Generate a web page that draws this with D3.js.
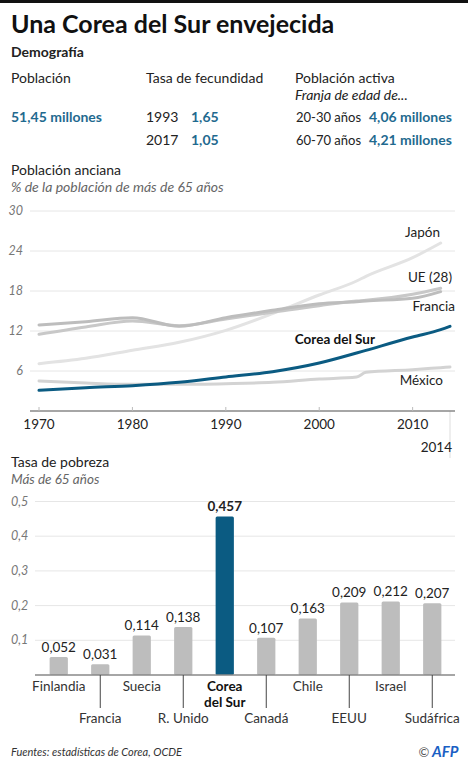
<!DOCTYPE html>
<html>
<head>
<meta charset="utf-8">
<script src="https://cdn.jsdelivr.net/npm/d3@7"></script>
<style>
  body { margin: 0; background: #fff; }
  svg { display: block; font-family: Lato, "Open Sans", sans-serif; }
  .grid line { stroke: #e6e6e6; }
  .tick-lbl { font-style: italic; fill: #777; font-size: 12.5px; }
</style>
</head>
<body>
<div id="chart"></div>
<script>
// ---- data ----
var years = [1970, 1975, 1980, 1985, 1990, 1995, 2000, 2004, 2005, 2010, 2013, 2014];
var corea   = [3.1, 3.5, 3.8, 4.3, 5.1, 5.9, 7.2, 8.7, 9.1, 11.1, 12.2, 12.7];
var japon   = [7.1, 7.9, 9.1, 10.3, 12.1, 14.6, 17.4, 19.5, 20.2, 23.0, 25.2, null];
var ue      = [11.5, 12.6, 13.5, 12.8, 13.8, 14.8, 15.8, 16.5, 16.6, 17.5, 18.4, null];
var francia = [12.9, 13.4, 14.0, 12.7, 14.0, 15.1, 16.1, 16.4, 16.5, 16.9, 17.9, null];
var mexico  = [4.5, 4.2, 4.0, 4.0, 4.1, 4.3, 4.8, 5.1, 5.8, 6.2, 6.5, 6.6];
var yTicks = [6, 12, 18, 24, 30];
var xTicks = [1970, 1980, 1990, 2000, 2010];

var paises  = ["Finlandia", "Francia", "Suecia", "R. Unido", "Corea del Sur", "Canadá", "Chile", "EEUU", "Israel", "Sudáfrica"];
var pobreza = [0.052, 0.031, 0.114, 0.138, 0.457, 0.107, 0.163, 0.209, 0.212, 0.207];
var bTicks = [0.1, 0.2, 0.3, 0.4, 0.5];

var blue = "#0b5b82", blueTxt = "#1f6a8f";
var fmt = function(v) { return String(v).replace(".", ","); };

var svg = d3.select("#chart").append("svg")
    .attr("width", 468).attr("height", 768);

// top black strip
svg.append("rect").attr("width", 468).attr("height", 3).attr("fill", "#111");

function txt(x, y, s, o) {
  o = o || {};
  return svg.append("text").attr("x", x).attr("y", y).text(s)
    .attr("font-size", o.size || 13)
    .attr("font-weight", o.bold ? "bold" : "normal")
    .attr("font-style", o.italic ? "italic" : "normal")
    .attr("fill", o.fill || "#222")
    .attr("text-anchor", o.anchor || "start");
}

// ---- header ----
txt(11, 33, "Una Corea del Sur envejecida", {size: 25, bold: true, fill: "#111"});
txt(11, 57, "Demografía", {size: 14, bold: true});
txt(11, 83, "Población", {size: 14});
txt(146, 83, "Tasa de fecundidad", {size: 14});
txt(295, 83, "Población activa", {size: 14});
txt(295, 100, "Franja de edad de...", {size: 14, italic: true});
txt(11, 122, "51,45 millones", {size: 14, bold: true, fill: blueTxt});
txt(146, 122, "1993", {size: 14});
txt(191, 122, "1,65", {size: 14, bold: true, fill: blueTxt});
txt(146, 145, "2017", {size: 14});
txt(191, 145, "1,05", {size: 14, bold: true, fill: blueTxt});
txt(296, 122, "20-30 años", {size: 13});
txt(369, 122, "4,06 millones", {size: 14, bold: true, fill: blueTxt});
txt(296, 145, "60-70 años", {size: 13});
txt(369, 145, "4,21 millones", {size: 14, bold: true, fill: blueTxt});

// ---- line chart ----
txt(11, 175, "Población anciana", {size: 14});
txt(11, 192, "% de la población de más de 65 años", {size: 14, italic: true, fill: "#666"});

var x = d3.scaleLinear().domain([1970, 2014]).range([39, 450]);
var y = d3.scaleLinear().domain([0, 30]).range([411, 211]);

var g1 = svg.append("g");
g1.append("g").attr("class", "grid")
  .selectAll("line").data(yTicks).enter().append("line")
    .attr("x1", 30).attr("x2", 455)
    .attr("y1", function(d) { return y(d); }).attr("y2", function(d) { return y(d); });
g1.selectAll(".yl").data(yTicks).enter().append("text")
    .attr("class", "tick-lbl")
    .attr("x", 23).attr("y", function(d) { return y(d) + 4; })
    .attr("text-anchor", "end")
    .text(function(d) { return d; });

// 2014 marker
g1.append("line").attr("x1", x(2014)).attr("x2", x(2014))
  .attr("y1", y(0)).attr("y2", 458).attr("stroke", "#ddd");

var line = d3.line()
    .defined(function(d) { return d[1] != null; })
    .x(function(d) { return x(d[0]); })
    .y(function(d) { return y(d[1]); })
    .curve(d3.curveMonotoneX);

var series = [
  {v: japon, c: "#e3e3e3", w: 3},
  {v: mexico, c: "#d3d3d3", w: 3},
  {v: ue, c: "#c8c8c8", w: 3},
  {v: francia, c: "#bdbdbd", w: 3},
  {v: corea, c: blue, w: 3}
];
series.forEach(function(s) {
  g1.append("path")
    .datum(years.map(function(yr, i) { return [yr, s.v[i]]; }))
    .attr("fill", "none").attr("stroke", s.c).attr("stroke-width", s.w)
    .attr("stroke-linejoin", "round").attr("stroke-linecap", "round")
    .attr("d", line);
});

var xAxis = g1.append("g").attr("transform", "translate(0," + y(0) + ")");
xAxis.append("line").attr("x1", 30).attr("x2", 455).attr("stroke", "#888").attr("stroke-width", 1.5);
xAxis.selectAll(".t").data(xTicks).enter().append("line")
  .attr("x1", function(d) { return x(d); }).attr("x2", function(d) { return x(d); })
  .attr("y1", -4).attr("y2", 0).attr("stroke", "#bbb");
xAxis.selectAll(".xl").data(xTicks).enter().append("text")
  .attr("x", function(d) { return x(d); }).attr("y", 18)
  .attr("text-anchor", "middle").attr("font-size", 13.5).attr("fill", "#222")
  .text(function(d) { return d; });
txt(452, 452, "2014", {size: 13.5, anchor: "end"});

txt(440, 237, "Japón", {size: 13.5, anchor: "end"});
txt(452, 282, "UE (28)", {size: 13.5, anchor: "end"});
txt(455, 311, "Francia", {size: 13.5, anchor: "end"});
txt(375, 344, "Corea del Sur", {size: 13.5, bold: true, anchor: "end", fill: "#111"});
txt(443, 385, "México", {size: 13.5, anchor: "end"});

// ---- bar chart ----
txt(11, 467, "Tasa de pobreza", {size: 14});
txt(11, 484, "Más de 65 años", {size: 13.5, italic: true, fill: "#666"});

var bx = d3.scaleBand().domain(paises).range([38, 453]).paddingInner(0.56).paddingOuter(0.28);
var by = d3.scaleLinear().domain([0, 0.5]).range([675, 501.5]);

var g2 = svg.append("g");
g2.append("g").attr("class", "grid")
  .selectAll("line").data(bTicks).enter().append("line")
    .attr("x1", 35).attr("x2", 455)
    .attr("y1", function(d) { return by(d); }).attr("y2", function(d) { return by(d); });
g2.selectAll(".yl").data(bTicks).enter().append("text")
    .attr("class", "tick-lbl")
    .attr("x", 11).attr("y", function(d) { return by(d) + 4; })
    .text(function(d) { return fmt(d); });

g2.selectAll("rect.bar").data(pobreza).enter().append("rect")
    .attr("class", "bar")
    .attr("x", function(d, i) { return bx(paises[i]); })
    .attr("width", bx.bandwidth())
    .attr("y", function(d) { return by(d); })
    .attr("height", function(d) { return by(0) - by(d); })
    .attr("rx", 1.5)
    .attr("fill", function(d, i) { return i === 4 ? blue : "#bdbdbd"; });

g2.selectAll(".val").data(pobreza).enter().append("text")
    .attr("x", function(d, i) { return bx(paises[i]) + bx.bandwidth() / 2; })
    .attr("y", function(d) { return by(d) - 5; })
    .attr("text-anchor", "middle").attr("font-size", 13.5)
    .attr("font-weight", function(d, i) { return i === 4 ? "bold" : "normal"; })
    .attr("fill", "#222")
    .text(function(d) { return fmt(d); });

g2.append("line").attr("x1", 35).attr("x2", 455)
  .attr("y1", by(0)).attr("y2", by(0)).attr("stroke", "#888").attr("stroke-width", 1.5);

paises.forEach(function(p, i) {
  var cx = bx(p) + bx.bandwidth() / 2;
  if (i % 2 === 1) {
    g2.append("line").attr("x1", cx).attr("x2", cx).attr("y1", by(0)).attr("y2", 708)
      .attr("stroke", "#444").attr("stroke-width", 1);
    txt(cx, 723, p, {size: 13.5, anchor: "middle", fill: "#333"});
  } else if (i === 4) {
    txt(cx, 691, "Corea", {size: 13.5, bold: true, anchor: "middle", fill: "#111"});
    txt(cx, 707, "del Sur", {size: 13.5, bold: true, anchor: "middle", fill: "#111"});
  } else {
    txt(cx, 691, p, {size: 13.5, anchor: "middle", fill: "#333"});
  }
});

// ---- footer ----
txt(11, 756, "Fuentes: estadísticas de Corea, OCDE", {size: 11, italic: true, fill: "#333"});
txt(424, 757, "©", {size: 13, anchor: "middle", fill: "#555"});
txt(432, 757, "AFP", {size: 15, bold: true, italic: true, fill: "#1a5fc4"});
</script>
</body>
</html>
